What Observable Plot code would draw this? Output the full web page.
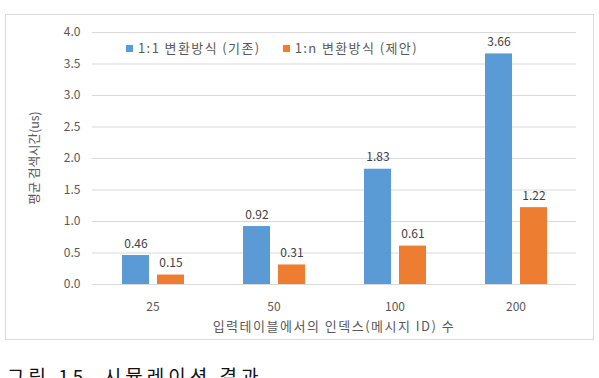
<!DOCTYPE html>
<html><head><meta charset="utf-8">
<script src="https://cdn.jsdelivr.net/npm/d3@7"></script>
<script src="https://cdn.jsdelivr.net/npm/@observablehq/plot@0.6"></script>
<style>
body{margin:0;background:#fff;width:599px;height:378px;overflow:hidden;position:relative;font-family:"Noto Sans CJK KR","Noto Sans",sans-serif;}
#box{position:absolute;left:5px;top:14px;width:587px;height:324px;border:1px solid #d9d9d9;}
#legend{position:absolute;left:126px;top:39px;font-size:13px;letter-spacing:1.4px;line-height:18px;color:#595959;display:flex;gap:22px;white-space:nowrap;}
#legend span.sw{display:inline-block;width:7px;height:7px;margin-right:5px;vertical-align:1px;}
#caption{position:absolute;left:7px;top:366px;font-size:19px;letter-spacing:4px;color:#111;white-space:pre;line-height:1;}
</style></head>
<body>
<div id="box"></div>
<div id="legend"></div>
<div id="caption">그림 15  시뮬레이션 결과</div>
<script>
const categories = ["25", "50", "100", "200"];
const seriesNames = ["1:1 변환방식 (기존)", "1:n 변환방식 (제안)"];
const existing = [0.46, 0.92, 1.83, 3.66];
const proposed = [0.15, 0.31, 0.61, 1.22];
const yTicks = [0, 0.5, 1, 1.5, 2, 2.5, 3, 3.5, 4];
const colors = ["#5b9bd5", "#ed7d31"];
const xLabel = "입력테이블에서의 인덱스(메시지 ID) 수";
const yLabel = "평균 검색시간(us)";

const data = [];
categories.forEach((c, i) => {
  data.push({cat: c, series: seriesNames[0], value: existing[i]});
  data.push({cat: c, series: seriesNames[1], value: proposed[i]});
});

const chart = Plot.plot({
  width: 587, height: 324,
  marginLeft: 86, marginRight: 17, marginTop: 17, marginBottom: 55,
  style: {fontFamily: '"Noto Sans CJK KR","Noto Sans",sans-serif', fontSize: "12px", color: "#595959", background: "transparent"},
  fx: {domain: categories, padding: 0, label: null},
  x: {domain: seriesNames, paddingInner: 0.23, paddingOuter: 0.84, axis: null},
  y: {domain: [0, 4], ticks: yTicks, tickFormat: d3.format(".1f"), label: null},
  color: {domain: seriesNames, range: colors},
  marks: [
    Plot.ruleY(yTicks, {stroke: "#d9d9d9", strokeWidth: 1}),
    Plot.axisY({ticks: yTicks, tickFormat: d3.format(".1f"), tickSize: 0, tickPadding: 12, fontSize: 12, fill: "#595959", label: null}),
    Plot.axisFx({anchor: "bottom", tickSize: 0, tickPadding: 18, fontSize: 12, fill: "#595959", label: null}),
    Plot.barY(data, {fx: "cat", x: "series", y: "value", fill: "series"}),
    Plot.text(data, {fx: "cat", x: "series", y: "value", text: d => d.value.toFixed(2), lineAnchor: "bottom", dy: -8, fill: "#404040", fontSize: 12})
  ]
});

chart.style.position = "absolute";
chart.style.left = "0px";
chart.style.top = "0px";
const box = document.getElementById("box");
box.appendChild(chart);

const svgNS = "http://www.w3.org/2000/svg";
const xl = document.createElementNS(svgNS, "text");
xl.setAttribute("x", 86 + (587 - 86 - 17) / 2);
xl.setAttribute("y", 316);
xl.setAttribute("text-anchor", "middle");
xl.setAttribute("fill", "#595959");
xl.setAttribute("font-size", "13");
xl.setAttribute("letter-spacing", "1.5");
xl.textContent = xLabel;
chart.appendChild(xl);

const yl = document.createElementNS(svgNS, "text");
yl.setAttribute("transform", `translate(33,${17 + (324 - 17 - 55) / 2}) rotate(-90)`);
yl.setAttribute("text-anchor", "middle");
yl.setAttribute("fill", "#595959");
yl.setAttribute("font-size", "12.5");
yl.textContent = yLabel;
chart.appendChild(yl);

const legend = document.getElementById("legend");
seriesNames.forEach((s, i) => {
  const item = document.createElement("div");
  item.innerHTML = `<span class="sw" style="background:${colors[i]}"></span>${s}`;
  legend.appendChild(item);
});
</script>
</body></html>
